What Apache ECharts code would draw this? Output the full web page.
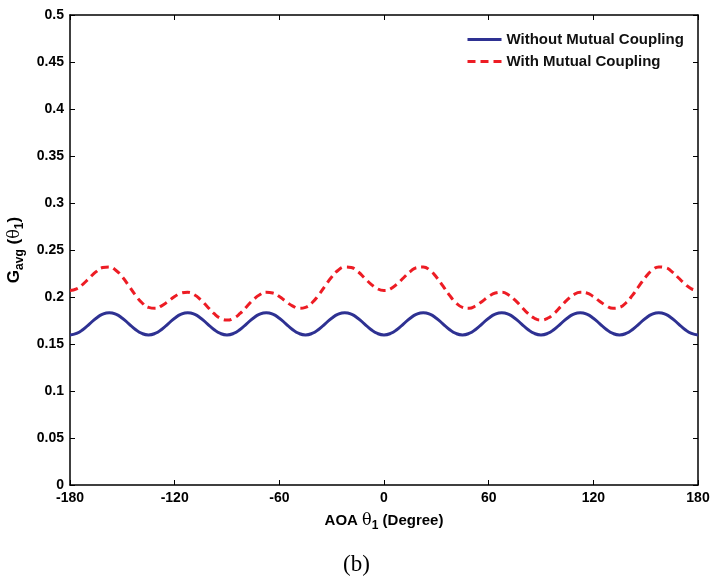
<!DOCTYPE html>
<html>
<head>
<meta charset="utf-8">
<script src="https://cdn.jsdelivr.net/npm/echarts@6/dist/echarts.min.js"></script>
<style>html,body{margin:0;padding:0;background:#fff;}#c{width:713px;height:586px;}</style>
</head>
<body>
<div id="c"></div>
<script>
// AOA angles (degrees), step 3.75
const angles = [];
for (let i = 0; i <= 96; i++) angles.push(-180 + i * 3.75);

const withoutCoupling = [
  0.1596,0.1612,0.1655,0.1715,0.1774,0.1817,0.1833,0.1817,0.1774,0.1715,0.1655,0.1612,
  0.1596,0.1612,0.1655,0.1715,0.1774,0.1817,0.1833,0.1817,0.1774,0.1715,0.1655,0.1612,
  0.1596,0.1612,0.1655,0.1715,0.1774,0.1817,0.1833,0.1817,0.1774,0.1715,0.1655,0.1612,
  0.1596,0.1612,0.1655,0.1715,0.1774,0.1817,0.1833,0.1817,0.1774,0.1715,0.1655,0.1612,
  0.1596,0.1612,0.1655,0.1715,0.1774,0.1817,0.1833,0.1817,0.1774,0.1715,0.1655,0.1612,
  0.1596,0.1612,0.1655,0.1715,0.1774,0.1817,0.1833,0.1817,0.1774,0.1715,0.1655,0.1612,
  0.1596,0.1612,0.1655,0.1715,0.1774,0.1817,0.1833,0.1817,0.1774,0.1715,0.1655,0.1612,
  0.1596,0.1612,0.1655,0.1715,0.1774,0.1817,0.1833,0.1817,0.1774,0.1715,0.1655,0.1612,
  0.1596
];
const withCoupling = [
  0.2070,0.2087,0.2138,0.2205,0.2270,0.2313,0.2320,0.2285,0.2213,0.2118,0.2020,0.1939,
  0.1890,0.1880,0.1906,0.1953,0.2005,0.2042,0.2050,0.2024,0.1969,0.1897,0.1825,0.1774,
  0.1755,0.1774,0.1825,0.1897,0.1969,0.2024,0.2050,0.2042,0.2005,0.1953,0.1906,0.1880,
  0.1890,0.1939,0.2020,0.2118,0.2213,0.2285,0.2320,0.2313,0.2270,0.2205,0.2138,0.2087,
  0.2070,0.2087,0.2138,0.2205,0.2270,0.2313,0.2320,0.2285,0.2213,0.2118,0.2020,0.1939,
  0.1890,0.1880,0.1906,0.1953,0.2005,0.2042,0.2050,0.2024,0.1969,0.1897,0.1825,0.1774,
  0.1755,0.1774,0.1825,0.1897,0.1969,0.2024,0.2050,0.2042,0.2005,0.1953,0.1906,0.1880,
  0.1890,0.1939,0.2020,0.2118,0.2213,0.2285,0.2320,0.2313,0.2270,0.2205,0.2138,0.2087,
  0.2070
];
const seriesNames = ['Without Mutual Coupling', 'With Mutual Coupling'];
const xTicks = [-180, -120, -60, 0, 60, 120, 180];
const yTicks = [0, 0.05, 0.1, 0.15, 0.2, 0.25, 0.3, 0.35, 0.4, 0.45, 0.5];

const font = 'Liberation Sans, Arial, Helvetica, sans-serif';
const chart = echarts.init(document.getElementById('c'));
const pairs = arr => angles.map((a, i) => [a, arr[i]]);
const axisLine = { show: true, onZero: false, lineStyle: { color: '#000', width: 1.5 } };
const tick = { show: true, inside: true, length: 5, lineStyle: { color: '#000', width: 1 } };

chart.setOption({
  animation: false,
  backgroundColor: '#fff',
  grid: { left: 70, right: 15, top: 15, bottom: 101, containLabel: false, outerBoundsMode: 'none' },
  legend: {
    orient: 'vertical', left: 461, top: 27,
    itemWidth: 34, itemHeight: 14, itemGap: 7,
    itemStyle: { color: 'rgba(0,0,0,0)', borderWidth: 0 },
    lineStyle: { width: 3 },
    textStyle: { fontFamily: font, fontWeight: 'bold', fontSize: 15, color: '#111' },
    data: seriesNames
  },
  xAxis: [{
    type: 'value', min: xTicks[0], max: xTicks[xTicks.length - 1], interval: 60,
    axisLine, axisTick: tick, splitLine: { show: false },
    axisLabel: { fontFamily: font, fontWeight: 'bold', fontSize: 14, color: '#000', margin: 6 },
    name: '{n|AOA }{t|θ}{s|1}{n| (Degree)}', nameLocation: 'middle', nameGap: 25,
    nameTextStyle: {
      rich: {
        n: { fontFamily: font, fontWeight: 'bold', fontSize: 15, color: '#000', lineHeight: 20 },
        t: { fontFamily: 'DejaVu Serif, serif', fontSize: 16, color: '#000', lineHeight: 20 },
        s: { fontFamily: font, fontWeight: 'bold', fontSize: 12, color: '#000', lineHeight: 20, padding: [10, 0, 0, 0] }
      }
    }
  }, {
    type: 'value', position: 'top', min: -180, max: 180, interval: 60,
    axisLine, axisTick: tick, axisLabel: { show: false }, splitLine: { show: false }
  }],
  yAxis: [{
    type: 'value', min: 0, max: 0.5, interval: 0.05,
    axisLine, axisTick: tick, splitLine: { show: false },
    axisLabel: { fontFamily: font, fontWeight: 'bold', fontSize: 14, color: '#000', margin: 6 },
    name: '{n|G}{s|avg}{n| (}{t|θ}{s|1}{n|)}', nameLocation: 'middle', nameGap: 42, nameRotate: 90,
    nameTextStyle: {
      rich: {
        n: { fontFamily: font, fontWeight: 'bold', fontSize: 17, color: '#000', lineHeight: 22 },
        t: { fontFamily: 'DejaVu Serif, serif', fontSize: 16, color: '#000', lineHeight: 22 },
        s: { fontFamily: font, fontWeight: 'bold', fontSize: 12, color: '#000', lineHeight: 22, padding: [11, 0, 0, 0] }
      }
    }
  }, {
    type: 'value', position: 'right', min: 0, max: 0.5, interval: 0.05,
    axisLine, axisTick: tick, axisLabel: { show: false }, splitLine: { show: false }
  }],
  series: [{
    name: seriesNames[0], type: 'line', data: pairs(withoutCoupling),
    symbol: 'none', smooth: true,
    lineStyle: { color: '#2e3192', width: 3 }, itemStyle: { color: '#2e3192' }
  }, {
    name: seriesNames[1], type: 'line', data: pairs(withCoupling),
    symbol: 'none', smooth: true,
    lineStyle: { color: '#ed1c24', width: 3, type: [8, 5] }, itemStyle: { color: '#ed1c24' }
  }],
  graphic: [{
    type: 'text', left: 'center', top: 553,
    style: { text: '(b)', fontFamily: 'Liberation Serif, Times New Roman, serif', fontSize: 23, fill: '#000' }
  }]
});
</script>
</body>
</html>
